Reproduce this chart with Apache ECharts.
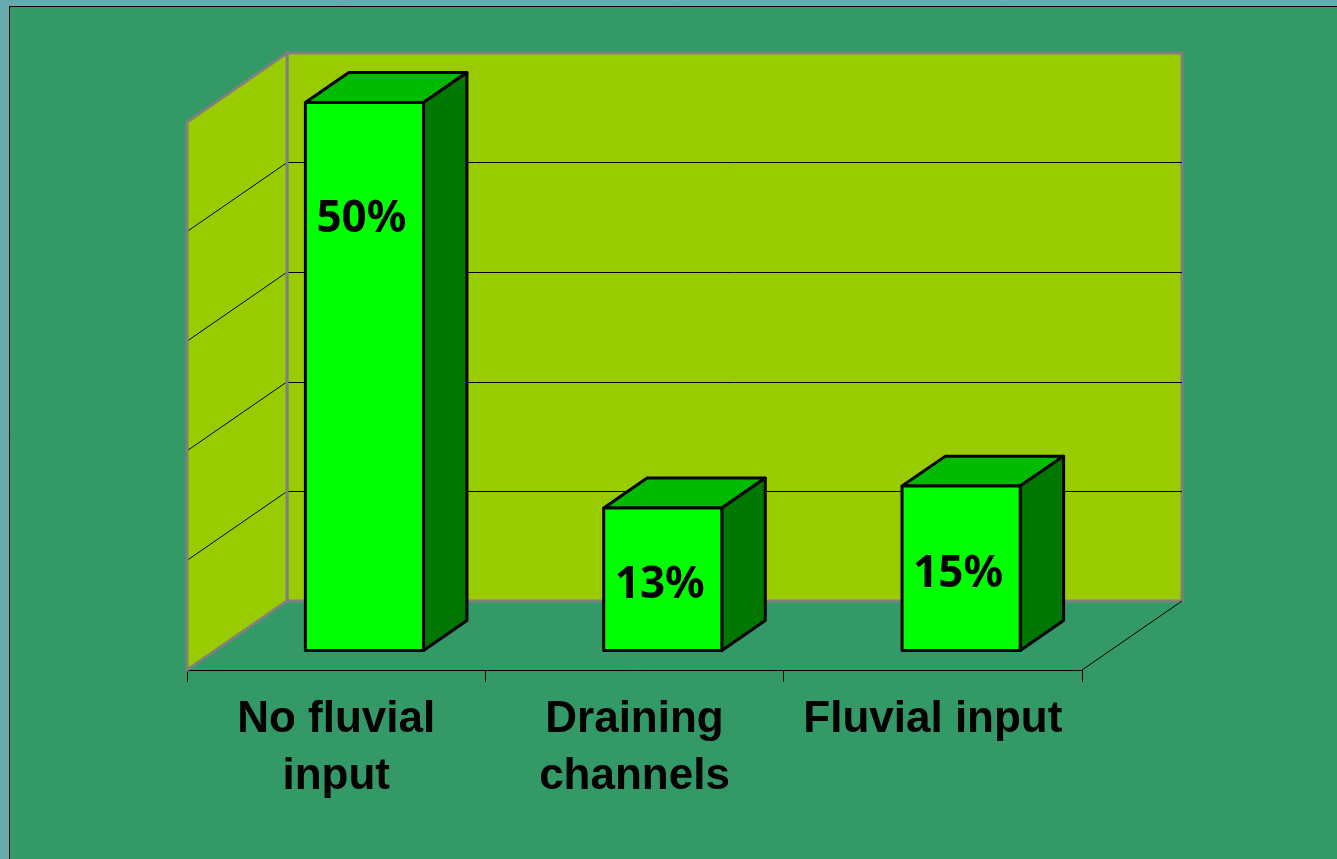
<!DOCTYPE html>
<html>
<head>
<meta charset="utf-8">
<script src="https://cdn.jsdelivr.net/npm/echarts@6/dist/echarts.min.js"></script>
<style>
  html, body { margin: 0; padding: 0; background: #66AAAF; }
  #chart { width: 1337px; height: 859px; }
</style>
</head>
<body>
<div id="chart"></div>
<script>
// Share of sites per catchment type (%)
const categories = ['No fluvial input', 'Draining channels', 'Fluvial input'];
const shares = [50, 13, 15];
const yTicks = [0, 10, 20, 30, 40, 50];

// Front plane of the 3D box (px) and the depth offset to the back wall
const FRONT = { left: 187, top: 122, right: 255, bottom: 189 };
const DEPTH = [100, -69];
const BACK = {
  left: FRONT.left + DEPTH[0],
  top: FRONT.top + DEPTH[1],
  right: FRONT.right - DEPTH[0],
  bottom: FRONT.bottom - DEPTH[1]
};
// Bar footprint as fractions of the category band and of the floor depth
const BAR_WIDTH = 0.396;
const BAR_FRONT = 0.283;
const BAR_BACK = 0.717;

const LABEL_FONT = 'bold 44px "Liberation Sans", Arial, sans-serif';
const LABEL_MAX_WIDTH = 290;

const yMin = yTicks[0];
const yMax = yTicks[yTicks.length - 1];
const yStep = yTicks[1] - yTicks[0];

// Greedy word wrap of a category name into lines no wider than the band
const measureCtx = document.createElement('canvas').getContext('2d');
function wrapLabel(name) {
  measureCtx.font = LABEL_FONT;
  const words = name.split(' ');
  const lines = [];
  let line = '';
  words.forEach(function (w) {
    const next = line ? line + ' ' + w : w;
    if (line && measureCtx.measureText(next).width > LABEL_MAX_WIDTH) {
      lines.push(line);
      line = w;
    } else {
      line = next;
    }
  });
  if (line) lines.push(line);
  return lines.join('\n');
}

function renderWalls(params, api) {
  const n = categories.length;
  const band = api.size([1, 0])[0];
  const origin = api.coord([0, yMin]);
  const x0 = origin[0] - band / 2;
  const y0 = origin[1];
  const x1 = api.coord([n - 1, yMin])[0] + band / 2;
  const yTop = api.coord([0, yMax])[1];
  const dx = DEPTH[0], dy = DEPTH[1];
  const wall = [[x0, y0], [x0, yTop], [x0 + dx, yTop + dy], [x0 + dx, y0 + dy]];
  const children = [
    { type: 'polygon', shape: { points: wall }, style: { fill: '#99CC00' } }
  ];
  yTicks.slice(1, -1).forEach(function (t) {
    const y = api.coord([0, t])[1];
    children.push({
      type: 'line',
      shape: { x1: x0, y1: y, x2: x0 + dx, y2: y + dy },
      style: { stroke: '#000', lineWidth: 1 }
    });
  });
  children.push({
    type: 'polygon', shape: { points: wall },
    style: { fill: null, stroke: '#808080', lineWidth: 3, lineJoin: 'miter' }
  });
  // right edge of the floor
  children.push({
    type: 'line',
    shape: { x1: x1, y1: y0, x2: x1 + dx, y2: y0 + dy },
    style: { stroke: '#000', lineWidth: 1 }
  });
  return { type: 'group', children: children };
}

function renderBar(params, api) {
  const i = api.value(0);
  const v = api.value(1);
  const base = api.coord([i, yMin]);
  const top = api.coord([i, v]);
  const half = api.size([1, 0])[0] * BAR_WIDTH / 2;
  const fx = DEPTH[0] * BAR_FRONT, fy = DEPTH[1] * BAR_FRONT;
  const bx = DEPTH[0] * BAR_BACK, by = DEPTH[1] * BAR_BACK;
  const xl = base[0] - half + fx, xr = base[0] + half + fx;
  const yt = top[1] + fy, yb = base[1] + fy;
  const bxl = base[0] - half + bx, bxr = base[0] + half + bx;
  const byt = top[1] + by, byb = base[1] + by;
  const edge = { stroke: '#000', lineWidth: 3, lineJoin: 'round' };
  return {
    type: 'group',
    children: [
      { type: 'polygon', shape: { points: [[xl, yt], [xr, yt], [bxr, byt], [bxl, byt]] },
        style: Object.assign({ fill: '#00BB00' }, edge) },
      { type: 'polygon', shape: { points: [[xr, yt], [bxr, byt], [bxr, byb], [xr, yb]] },
        style: Object.assign({ fill: '#007700' }, edge) },
      { type: 'rect', shape: { x: xl, y: yt, width: xr - xl, height: yb - yt },
        style: Object.assign({ fill: '#00FF00' }, edge) },
      { type: 'text', x: (xl + xr) / 2 - 3, y: Math.min((yt + yb) / 2 + 6, yt + 117),
        style: {
          text: v + '%', fill: '#000',
          font: 'bold 44px "Noto Sans", "DejaVu Sans", sans-serif',
          align: 'center', verticalAlign: 'middle'
        } }
    ]
  };
}

const chart = echarts.init(document.getElementById('chart'), null, { renderer: 'canvas' });
chart.setOption({
  animation: false,
  backgroundColor: '#66AAAF',
  graphic: [{
    type: 'rect', z: -1, silent: true,
    shape: { x: 9.5, y: 6.5, width: 1400, height: 1000 },
    style: { fill: '#339966', stroke: '#000', lineWidth: 1 }
  }],
  grid: [
    { left: BACK.left, top: BACK.top, right: BACK.right, bottom: BACK.bottom,
      show: true, backgroundColor: '#99CC00', borderColor: '#808080', borderWidth: 3 },
    { left: FRONT.left, top: FRONT.top, right: FRONT.right, bottom: FRONT.bottom }
  ],
  xAxis: [
    { gridIndex: 0, type: 'category', data: categories, show: false },
    { gridIndex: 1, type: 'category', data: categories,
      axisLine: { show: true, lineStyle: { color: '#000', width: 1 } },
      axisTick: { show: true, interval: 0, alignWithLabel: false, inside: false, length: 12,
        lineStyle: { color: '#000', width: 1 } },
      axisLabel: {
        interval: 0, margin: 21, color: '#000', align: 'center',
        font: LABEL_FONT, fontSize: 44, fontWeight: 'bold',
        fontFamily: '"Liberation Sans", Arial, sans-serif',
        lineHeight: 57, formatter: wrapLabel
      },
      splitLine: { show: false } }
  ],
  yAxis: [
    { gridIndex: 0, type: 'value', min: yMin, max: yMax, interval: yStep,
      axisLine: { show: false }, axisTick: { show: false }, axisLabel: { show: false },
      splitLine: { show: true, showMinLine: false, showMaxLine: false,
        lineStyle: { color: '#000', width: 1 } } },
    { gridIndex: 1, type: 'value', min: yMin, max: yMax, interval: yStep, show: false,
      splitLine: { show: false } }
  ],
  series: [
    { type: 'custom', name: 'walls', xAxisIndex: 1, yAxisIndex: 1, z: 1, clip: false,
      silent: true, renderItem: renderWalls, data: [[0, 0]] },
    { type: 'custom', name: 'shares', xAxisIndex: 1, yAxisIndex: 1, z: 3, clip: false,
      renderItem: renderBar, data: shares.map(function (v, i) { return [i, v]; }) }
  ]
});
</script>
</body>
</html>
